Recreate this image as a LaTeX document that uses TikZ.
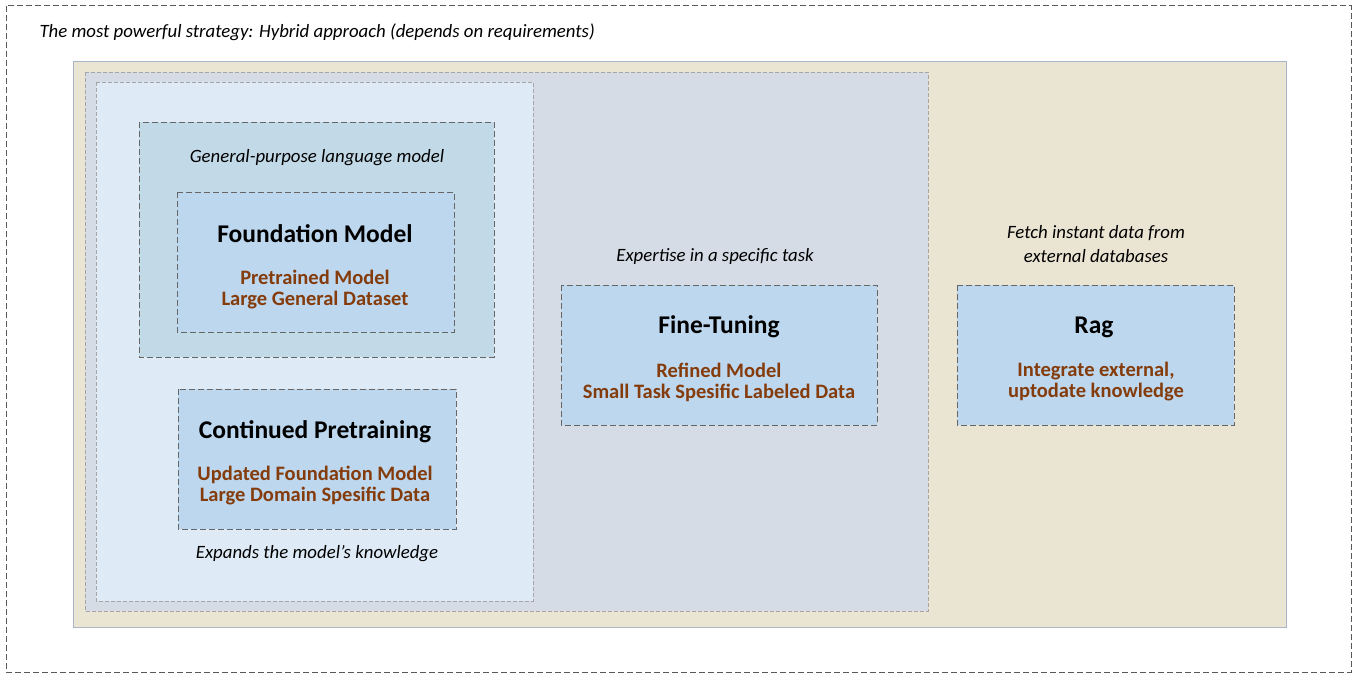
\documentclass[tikz,border=0pt]{standalone}
\usepackage{fontspec}
\setmainfont{Carlito}
\begin{document}
\begin{tikzpicture}[x=1pt,y=-1pt,
  dk/.style={draw=black!60,dash pattern=on 6pt off 3pt,line width=1pt},
  inner/.style={dk,fill=boxblue},
  ttl/.style={font=\fontsize{25.5}{28}\selectfont\bfseries},
  sub/.style={font=\fontsize{20.5}{21}\selectfont\bfseries,text=brn,align=center},
  itl/.style={font=\fontsize{18.8}{24}\selectfont\itshape,align=center}]
\definecolor{boxblue}{HTML}{BDD7EE}
\definecolor{brn}{HTML}{843C0C}
\useasboundingbox (0,0) rectangle (1358,677);
\fill[white] (0,0) rectangle (1358,677);
\draw[dk,draw=black!65] (6,6) rectangle (1351,672);
\draw[fill={rgb,255:red,234;green,228;blue,211},draw={rgb,255:red,169;green,182;blue,200}] (73,61) rectangle (1286,627);
\draw[fill={rgb,255:red,213;green,220;blue,229},draw=black!35,dash pattern=on 4pt off 2pt] (85,72) rectangle (928,611);
\draw[fill={rgb,255:red,222;green,234;blue,245},draw=black!35,dash pattern=on 4pt off 2pt] (96,82) rectangle (533,601);
\draw[dk,fill={rgb,255:red,194;green,218;blue,232}] (139,122) rectangle (494,357);
\draw[inner] (177,192) rectangle (454,332);
\draw[inner] (178,389) rectangle (456,529);
\draw[inner] (561,285) rectangle (877,425);
\draw[inner] (957,285) rectangle (1234,425);
\node[itl,anchor=west] (t0) at (36,32) {The most powerful strategy: Hybrid approach (depends on requirements)};
\node[itl] (t1) at (317,158) {General-purpose language model};
\node[ttl] (fmt) at (315,234) {Foundation Model};
\node[sub] (fms) at (315,290) {Pretrained Model\\Large General Dataset};
\node[ttl] (cpt) at (315,432) {Continued Pretraining};
\node[sub] (cps) at (315,486) {Updated Foundation Model\\Large Domain Spesific Data};
\node[itl] (t2) at (317,554) {Expands the model’s knowledge};
\node[itl] (t3) at (715,256) {Expertise in a specific task};
\node[ttl] (ftt) at (719,327) {Fine-Tuning};
\node[sub] (fts) at (719,382) {Refined Model\\Small Task Spesific Labeled Data};
\node[itl] (t4) at (1096,244) {Fetch instant data from\\external databases};
\node[ttl] (rgt) at (1094,327) {Rag};
\node[sub] (rgs) at (1096,382) {Integrate external,\\uptodate knowledge};
\end{tikzpicture}
\end{document}
